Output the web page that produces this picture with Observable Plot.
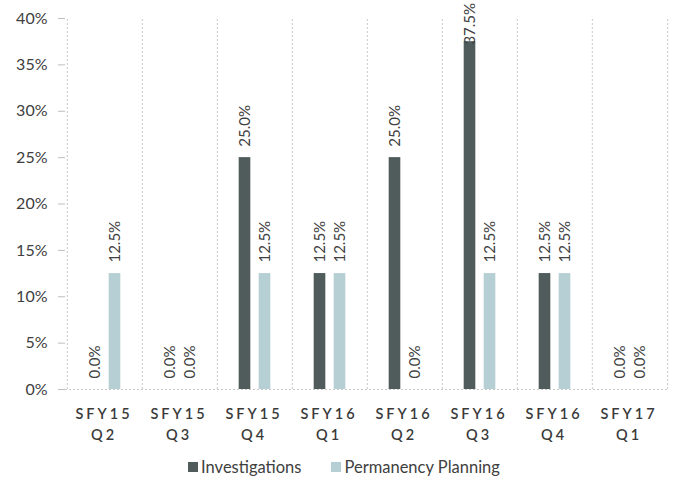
<!DOCTYPE html>
<html>
<head>
<meta charset="utf-8">
<script src="https://cdn.jsdelivr.net/npm/d3@7"></script>
<script src="https://cdn.jsdelivr.net/npm/@observablehq/plot@0.6"></script>
<style>
  body { margin: 0; background: #fff; font-family: Lato, "Open Sans", sans-serif; }
  #legend { display: flex; justify-content: center; gap: 30px; padding-top: 9px; font-size: 16.5px; color: #404040; margin-left: 10px; }
  #legend span.item { display: flex; align-items: center; gap: 3px; }
  #legend span.sw { width: 10px; height: 10px; display: inline-block; }
</style>
</head>
<body>
<div id="chart"></div>
<div id="legend"></div>
<script>
const categories = ["SFY15 Q2", "SFY15 Q3", "SFY15 Q4", "SFY16 Q1", "SFY16 Q2", "SFY16 Q3", "SFY16 Q4", "SFY17 Q1"];
const seriesNames = ["Investigations", "Permanency Planning"];
const investigations = [0, 0, 25, 12.5, 25, 37.5, 12.5, 0];
const permanency = [12.5, 0, 12.5, 12.5, 0, 12.5, 12.5, 0];
const yTicks = [0, 5, 10, 15, 20, 25, 30, 35, 40];
const colors = ["#4f5c5b", "#b6cfd5"];

const width = 678, height = 448;
const marginLeft = 65, marginRight = 10, marginTop = 18, marginBottom = 59;
const bw = (width - marginLeft - marginRight) / categories.length;
const barW = 12, off = 10;
const inner = bw / 2 - off - barW / 2;
const outer = bw - inner - barW;
const labelCap = 36; // keep value labels inside the chart, as the original does

const inv = categories.map((c, i) => ({cat: c, v: investigations[i]}));
const perm = categories.map((c, i) => ({cat: c, v: permanency[i]}));
const fmt = d => d.v.toFixed(1) + "%";
const labelY = d => Math.min(d.v, labelCap);

const plot = Plot.plot({
  width, height, marginLeft, marginRight, marginTop, marginBottom,
  style: {fontFamily: "Lato, 'Open Sans', sans-serif", fontSize: "16px", color: "#404040", background: "#fff", overflow: "visible"},
  x: {domain: categories, padding: 0, axis: null},
  y: {domain: [0, 40], ticks: yTicks, tickFormat: d => d + "%", tickSize: 7, tickPadding: 11, label: null},
  marks: [
    Plot.ruleX(categories, {x: d => d, dx: -bw / 2, y1: 0, y2: 40, stroke: "#c8c8c8", strokeDasharray: "2,2"}),
    Plot.ruleX([categories[categories.length - 1]], {x: d => d, dx: bw / 2, y1: 0, y2: 40, stroke: "#c8c8c8", strokeDasharray: "2,2"}),
    Plot.ruleY([0], {stroke: "#c8c8c8", strokeDasharray: "2,2"}),
    Plot.barY(inv, {x: "cat", y: "v", fill: colors[0], insetLeft: inner, insetRight: outer}),
    Plot.barY(perm, {x: "cat", y: "v", fill: colors[1], insetLeft: outer, insetRight: inner}),
    Plot.text(inv, {x: "cat", y: labelY, text: fmt, rotate: -90, textAnchor: "start", lineAnchor: "middle", dx: -off, dy: -11, fontSize: 15, fill: "#404040"}),
    Plot.text(perm, {x: "cat", y: labelY, text: fmt, rotate: -90, textAnchor: "start", lineAnchor: "middle", dx: off, dy: -11, fontSize: 15, fill: "#404040"}),
    Plot.text(categories, {x: d => d, frameAnchor: "bottom", text: d => d.replace(" ", "\n"), lineAnchor: "top", dx: -1, dy: 15, lineHeight: 1.45, fontSize: 14.5, fontWeight: 600, fill: "#3a3a3a"})
  ]
});

plot.querySelectorAll('[aria-label="y-axis tick"]').forEach(e => e.setAttribute("stroke", "#bfbfbf"));
plot.querySelectorAll('[aria-label="y-axis"] .tick line').forEach(e => e.setAttribute("stroke", "#bfbfbf"));
plot.querySelectorAll("text").forEach(t => { if (/^SFY/.test(t.textContent)) t.style.letterSpacing = "3px"; });
document.getElementById("chart").appendChild(plot);

const legend = document.getElementById("legend");
seriesNames.forEach((name, i) => {
  const item = document.createElement("span");
  item.className = "item";
  const sw = document.createElement("span");
  sw.className = "sw";
  sw.style.background = colors[i];
  item.appendChild(sw);
  item.appendChild(document.createTextNode(name));
  legend.appendChild(item);
});
</script>
</body>
</html>
